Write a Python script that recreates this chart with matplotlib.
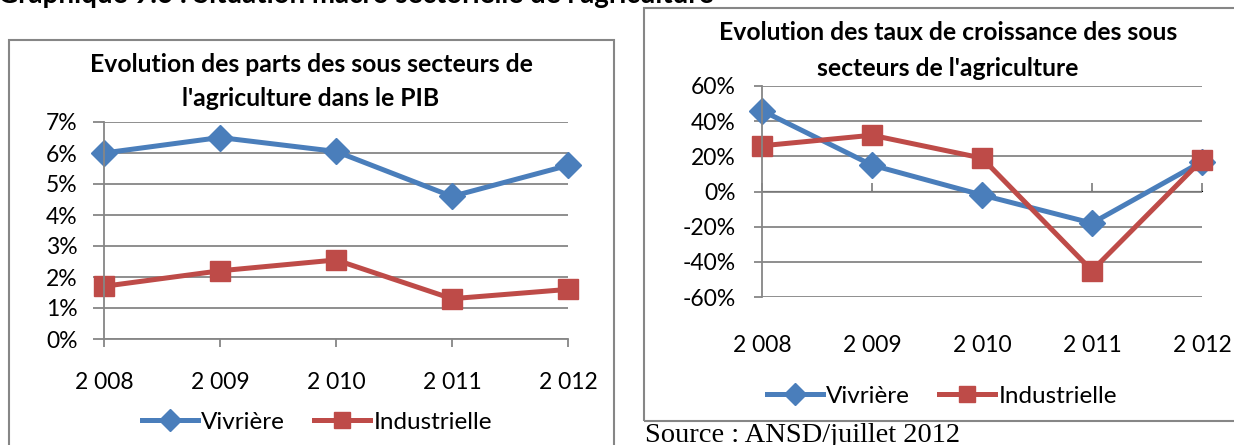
import matplotlib
matplotlib.use('Agg')
import matplotlib.pyplot as plt
from matplotlib.patches import Rectangle

plt.rcParams['font.family'] = ['Lato', 'DejaVu Sans']

years = ['2 008', '2 009', '2 010', '2 011', '2 012']

# parts dans le PIB (%)
parts_vivriere = [6.0, 6.5, 6.05, 4.6, 5.6]
parts_industrielle = [1.7, 2.2, 2.55, 1.3, 1.6]

# taux de croissance (%)
taux_vivriere = [46, 15, -2, -18, 17]
taux_industrielle = [26, 32, 19, -45, 18]

BLUE = '#4A7EBB'
RED = '#BE4B48'
GRID = '#868686'

W, H = 1234, 445
fig = plt.figure(figsize=(W / 100, H / 100), dpi=100)


def fx(px):
    return px / W


def fy(py):
    return 1 - py / H


# header (cut at the top in the reference)
fig.text(fx(-2), fy(3), "Graphique 9.6 : Situation macro sectorielle de l'agriculture",
         fontsize=20, fontweight='bold', ha='left', va='baseline')

# chart frames
fig.patches.append(Rectangle((fx(9), fy(460)), fx(605), (460 - 40) / H, transform=fig.transFigure,
                             fill=False, edgecolor=GRID, linewidth=1.5))
fig.patches.append(Rectangle((fx(644), fy(421)), fx(620), (421 - 8) / H, transform=fig.transFigure,
                             fill=False, edgecolor=GRID, linewidth=1.5))


def style(ax, yticks, ylabels, tick_len, pad):
    ax.set_xlim(0, 4)
    ax.set_xticks(range(5))
    ax.set_xticklabels(years)
    ax.set_yticks(yticks)
    ax.set_yticklabels(ylabels)
    ax.grid(axis='y', color=GRID, linewidth=1.3)
    ax.set_axisbelow(True)
    for s in ['top', 'right']:
        ax.spines[s].set_visible(False)
    ax.spines['left'].set_color(GRID)
    ax.spines['left'].set_linewidth(1.3)
    ax.tick_params(axis='y', length=tick_len, width=1.3, color=GRID, labelsize=16.5, pad=pad)


leg_kw = dict(ncol=2, frameon=False, fontsize=17.5, handlelength=2.3, handletextpad=0.15,
              columnspacing=1.2, markerscale=0.85)

# left chart
ax1 = fig.add_axes([fx(104), fy(339), fx(464), 217 / H])
ax1.plot(range(5), parts_vivriere, color=BLUE, lw=3.6, marker='D', ms=13, label='Vivrière', clip_on=False)
ax1.plot(range(5), parts_industrielle, color=RED, lw=3.6, marker='s', ms=14, label='Industrielle', clip_on=False)
ax1.set_ylim(0, 7)
style(ax1, range(8), [f'{v}%' for v in range(8)], 8, 11)
ax1.spines['bottom'].set_color(GRID)
ax1.spines['bottom'].set_linewidth(1.3)
ax1.tick_params(axis='x', length=6, width=1.3, color=GRID, labelsize=16.5, pad=18)
fig.text(fx(311), fy(65), 'Evolution des parts des sous secteurs de', fontsize=17.8,
         fontweight='bold', ha='center', va='center')
fig.text(fx(311), fy(98), "l'agriculture dans le PIB", fontsize=17.8,
         fontweight='bold', ha='center', va='center')
fig.legend(*ax1.get_legend_handles_labels(), loc='center', bbox_to_anchor=(fx(317), fy(422)), **leg_kw)

# right chart
ax2 = fig.add_axes([fx(762), fy(297), fx(440), 211 / H])
ax2.plot(range(5), taux_vivriere, color=BLUE, lw=3.6, marker='D', ms=13, label='Vivrière', clip_on=False)
ax2.plot(range(5), taux_industrielle, color=RED, lw=3.6, marker='s', ms=14, label='Industrielle', clip_on=False)
ax2.set_ylim(-60, 60)
style(ax2, range(-60, 61, 20), [f'{v}%' for v in range(-60, 61, 20)], 6, 13)
ax2.spines['bottom'].set_visible(False)
ax2.tick_params(axis='x', length=0, labelsize=16.5, pad=27)
sec = ax2.secondary_xaxis(0.5)
sec.set_xticks(range(5))
sec.set_xticklabels([])
sec.spines['bottom'].set_color(GRID)
sec.spines['bottom'].set_linewidth(1.3)
sec.tick_params(axis='x', length=6, width=1.3, color=GRID)
fig.text(fx(948), fy(33), 'Evolution des taux de croissance des sous', fontsize=17.8,
         fontweight='bold', ha='center', va='center')
fig.text(fx(948), fy(68), "secteurs de l'agriculture", fontsize=17.8,
         fontweight='bold', ha='center', va='center')
fig.legend(*ax2.get_legend_handles_labels(), loc='center', bbox_to_anchor=(fx(942), fy(396)), **leg_kw)

# source
fig.text(fx(645), fy(423), 'Source : ANSD/juillet 2012', fontsize=20.5,
         family='Liberation Serif', ha='left', va='top')

fig.savefig('out.png', dpi=100)
